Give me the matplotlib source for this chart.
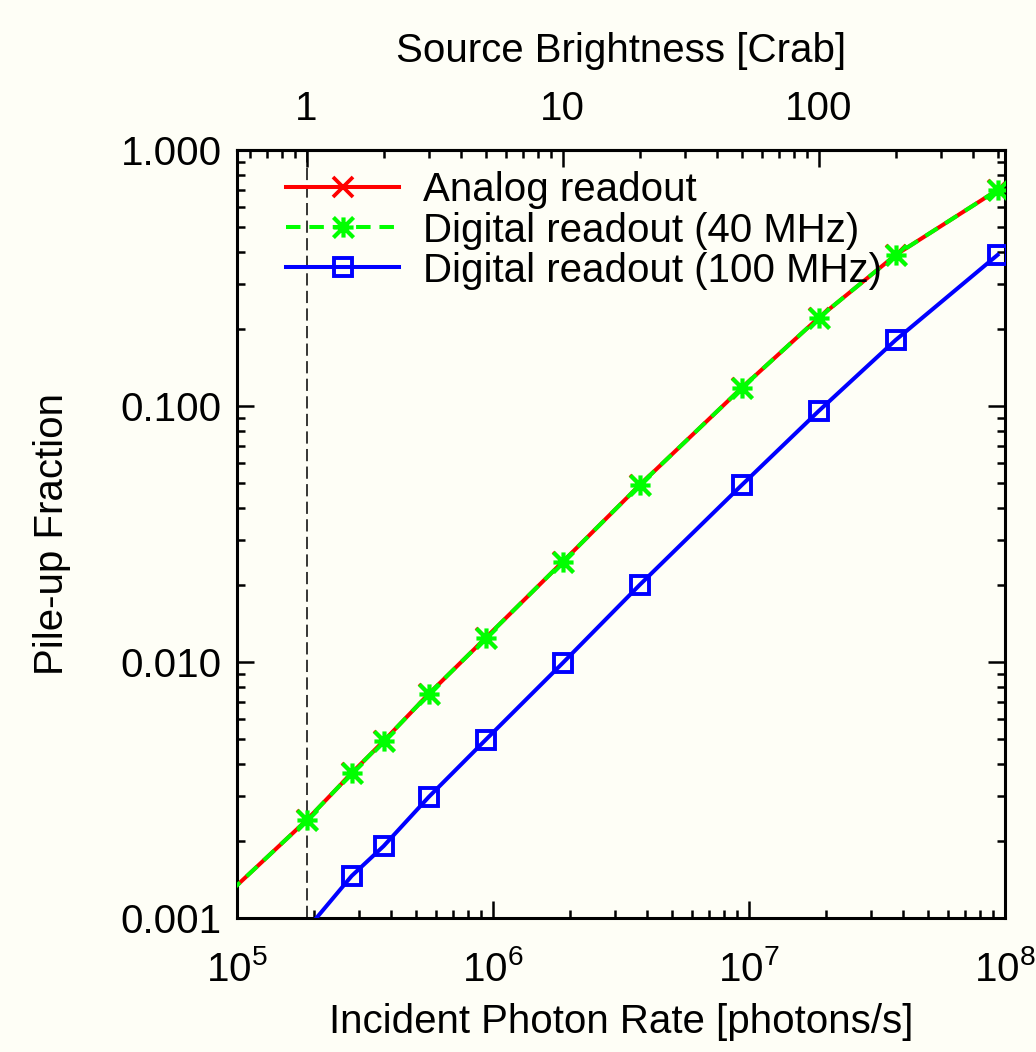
import numpy as np
import matplotlib
matplotlib.use("Agg")
import matplotlib.pyplot as plt
from matplotlib.path import Path
from matplotlib.ticker import LogLocator, FixedLocator, FixedFormatter, NullFormatter

plt.rcParams["font.family"] = ["Liberation Sans", "DejaVu Sans"]
plt.rcParams["mathtext.default"] = "regular"

BG = "#fefef6"
CRAB = 1.87e5  # photons/s for 1 Crab

# source brightness in Crab for each simulated point
crab_analog = [0.5, 1, 1.5, 2, 3, 5, 10, 20, 50, 100, 200, 500]
pileup_analog = [0.00126, 0.00241, 0.00368, 0.00491, 0.0075, 0.0124, 0.0246,
                 0.0491, 0.1175, 0.221, 0.389, 0.698]
crab_d40 = [0.5, 1, 1.5, 2, 3, 5, 10, 20, 50, 100, 200, 500]
pileup_d40 = [0.00126, 0.00241, 0.00368, 0.00491, 0.0075, 0.0124, 0.0246,
              0.0491, 0.1175, 0.221, 0.389, 0.698]
crab_d100 = [1, 1.5, 2, 3, 5, 10, 20, 50, 100, 200, 500]
pileup_d100 = [0.0009, 0.00146, 0.00191, 0.00297, 0.00496, 0.0099, 0.0200,
               0.0490, 0.0955, 0.181, 0.389]

y_ticks = [0.001, 0.01, 0.1, 1.0]
y_labels = ["0.001", "0.010", "0.100", "1.000"]
top_ticks = [1, 10, 100]
top_labels = ["1", "10", "100"]

# gnuplot-style star: a plus and a cross in the same box
M, L = Path.MOVETO, Path.LINETO
star = Path([(-1, 0), (1, 0), (0, -1), (0, 1), (-1, -1), (1, 1), (-1, 1), (1, -1)],
            [M, L, M, L, M, L, M, L])

fig = plt.figure(figsize=(10.36, 10.52), dpi=100, facecolor=BG)
ax = fig.add_axes([237 / 1036, 134 / 1052, 768 / 1036, 768 / 1052], facecolor=BG)

rate = lambda c: np.asarray(c) * CRAB
# gnuplot drops markers of out-of-range points, so skip the 0.5 Crab marker
ax.axvline(CRAB, color="black", lw=1.1, ls=(0, (8, 3.5)), zorder=1)
ax.plot(rate(crab_analog), pileup_analog, color="#ff0000", lw=2.9, marker="x",
        ms=14, mew=2.7, markevery=slice(1, None), label="Analog readout", zorder=2)
ax.plot(rate(crab_d40), pileup_d40, color="#00ff00", lw=2.9, ls=(0, (3.6, 2.2)),
        marker=star, ms=14.5, mew=3, markevery=slice(1, None),
        label="Digital readout (40 MHz)", zorder=3)
ax.plot(rate(crab_d100), pileup_d100, color="#0000ff", lw=2.9, marker="s", ms=13,
        mew=2.8, mfc="none", label="Digital readout (100 MHz)", zorder=4)

ax.set_xscale("log")
ax.set_yscale("log")
ax.set_xlim(1e5, 1e8)
ax.set_ylim(0.001, 1.0)
ax.yaxis.set_major_locator(FixedLocator(y_ticks))
ax.yaxis.set_major_formatter(FixedFormatter(y_labels))
ax.yaxis.set_minor_locator(LogLocator(base=10, subs=np.arange(2, 10)))
ax.yaxis.set_minor_formatter(NullFormatter())

for s in ax.spines.values():
    s.set_linewidth(2.2)
ax.tick_params(which="both", direction="in", top=False, right=True, width=1.8,
               labelsize=29)
ax.tick_params(which="major", length=12)
ax.tick_params(which="minor", length=6)
ax.tick_params(axis="x", pad=23)
ax.tick_params(axis="y", pad=11)

sec = ax.secondary_xaxis("top", functions=(lambda x: x / CRAB, lambda c: c * CRAB))
sec.xaxis.set_major_locator(FixedLocator(top_ticks))
sec.xaxis.set_major_formatter(FixedFormatter(top_labels))
sec.xaxis.set_minor_locator(LogLocator(base=10, subs=np.arange(2, 10)))
sec.xaxis.set_minor_formatter(NullFormatter())
sec.tick_params(which="both", direction="in", width=1.8, labelsize=29, pad=16)
sec.tick_params(which="major", length=12)
sec.tick_params(which="minor", length=6)
sec.spines["top"].set_linewidth(2.2)
sec.set_xlabel("Source Brightness [Crab]", fontsize=29, labelpad=20)

ax.set_xlabel("Incident Photon Rate [photons/s]", fontsize=29, labelpad=10)
ax.set_ylabel("Pile-up Fraction", fontsize=29, labelpad=36)

ax.legend(loc="upper left", frameon=False, fontsize=29, handlelength=2.8,
          handletextpad=0.6, labelspacing=0.05, borderaxespad=0.0,
          bbox_to_anchor=(0.043, 0.993))

fig.savefig("out.png", dpi=100, facecolor=BG)
